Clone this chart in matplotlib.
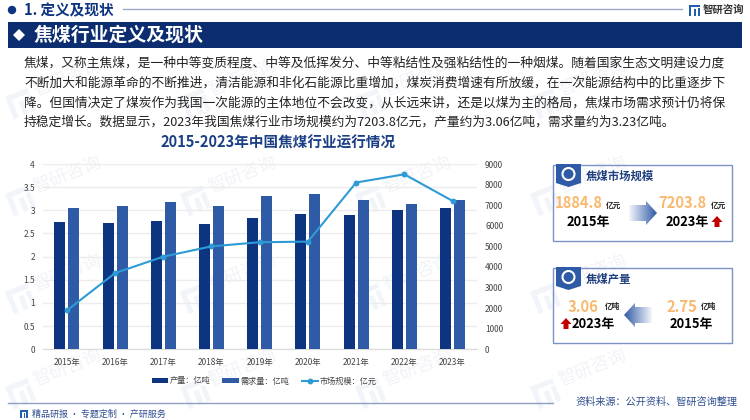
import numpy as np
import matplotlib
matplotlib.use('Agg')
import matplotlib.pyplot as plt
from matplotlib.patches import Polygon, Rectangle, Circle
from matplotlib.colors import LinearSegmentedColormap

plt.rcParams['font.family'] = ['Noto Sans CJK SC', 'DejaVu Sans']

# data
years = ['2015年', '2016年', '2017年', '2018年', '2019年', '2020年', '2021年', '2022年', '2023年']
output = [2.75, 2.72, 2.77, 2.71, 2.83, 2.91, 2.89, 3.00, 3.06]
demand = [3.04, 3.09, 3.19, 3.10, 3.30, 3.35, 3.22, 3.14, 3.23]
market = [1884.8, 3700, 4500, 5000, 5200, 5230, 8100, 8500, 7203.8]
left_ticks = [0, 0.5, 1, 1.5, 2, 2.5, 3, 3.5, 4]
left_labels = ['0', '0.5', '1', '1.5', '2', '2.5', '3', '3.5', '4']
right_ticks = [0, 1000, 2000, 3000, 4000, 5000, 6000, 7000, 8000, 9000]

body_lines = [
    '焦煤，又称主焦煤，是一种中等变质程度、中等及低挥发分、中等粘结性及强粘结性的一种烟煤。随着国家生态文明建设力度',
    '不断加大和能源革命的不断推进，清洁能源和非化石能源比重增加，煤炭消费增速有所放缓，在一次能源结构中的比重逐步下',
    '降。但国情决定了煤炭作为我国一次能源的主体地位不会改变，从长远来讲，还是以煤为主的格局，焦煤市场需求预计仍将保',
    '持稳定增长。数据显示，2023年我国焦煤行业市场规模约为7203.8亿元，产量约为3.06亿吨，需求量约为3.23亿吨。',
]

NAVY = '#0c3480'
BLUE = '#2f5aa6'
LINE = '#2e9bd6'
ORANGE = '#f9b96e'
W, H = 750, 420

fig = plt.figure(figsize=(7.5, 4.2), dpi=100, facecolor='white')

# background layer in pixel coords
bg = fig.add_axes([0, 0, 1, 1], zorder=0)
bg.set_xlim(0, W)
bg.set_ylim(H, 0)
bg.axis('off')


def logo(a, x, y, s, color, rot=0):
    # small square mark, built from three bars
    t = matplotlib.transforms.Affine2D().scale(s).rotate_deg(rot).translate(x, y) + a.transData
    a.add_patch(Rectangle((0, 0), 1, 0.22, color=color, transform=t, lw=0))
    a.add_patch(Rectangle((0, 0), 0.22, 1, color=color, transform=t, lw=0))
    a.add_patch(Rectangle((0.45, 0.4), 0.22, 0.6, color=color, transform=t, lw=0))
    a.add_patch(Rectangle((0.8, 0.3), 0.2, 0.7, color=color, transform=t, lw=0))


# watermarks
for cx in [67, 242, 417, 592]:
    for cy in [75, 172, 270, 365]:
        bg.text(cx, cy + 3, '智研咨询', fontsize=13, color='#f1f3f7', rotation=22,
                ha='center', va='center')
        logo(bg, cx - 62, cy + 22, 24, '#f1f5fa', rot=-22)

# header
bg.add_patch(Circle((12, 10), 3.5, color=NAVY))
bg.text(24, 10, '1. 定义及现状', fontsize=10.5, fontweight='bold', color=NAVY, va='center')
bg.plot([123, 682], [9, 9], color='#9aa9c9', lw=1)
logo(bg, 689, 5, 11, '#1f5fae')
bg.text(703, 10, '智研咨询', fontsize=7.5, fontweight='bold', color='#333333', va='center')
bg.add_patch(Rectangle((8, 22), 734, 25.5, color='#0c2d6f', lw=0))
bg.add_patch(Polygon([(13, 35), (19, 29), (25, 35), (19, 41)], color='white', lw=0))
bg.text(34, 35, '焦煤行业定义及现状', fontsize=13.6, fontweight='bold', color='white', va='center')

# body text
for txt, yy in zip(body_lines, [63, 83, 103, 122]):
    bg.text(24, yy, txt, fontsize=9.17, color='#222222', va='center')

bg.text(160, 143, '2015-2023年中国焦煤行业运行情况', fontsize=10.5, fontweight='bold',
        color='#1a3f85', ha='left', va='center')

# footer
bg.plot([8, 553], [403, 403], color='#8f9fc4', lw=1)
logo(bg, 20, 410, 8, '#1f5fae')
bg.text(32, 414, '精品研报 · 专题定制 · 产研服务', fontsize=6.5, color='#2f4f8f', va='center')
bg.text(575, 402, '资料来源：公开资料、智研咨询整理', fontsize=7.3, color='#2f4f8f', va='center')

# chart, plot area from pixels
L, R, T, B = 42.7, 476.7, 164, 349.3
ax = fig.add_axes([L / W, 1 - B / H, (R - L) / W, (B - T) / H], zorder=2)
ax.patch.set_alpha(0)
x = np.arange(len(years))
width = 0.228
off = 0.145
b1 = ax.bar(x - off, output, width, color=NAVY, label='产量：亿吨', zorder=3)
b2 = ax.bar(x + off, demand, width, color=BLUE, label='需求量：亿吨', zorder=3)
ax.set_xlim(-0.5, len(years) - 0.5)
ax.set_ylim(0, 4)
ax.set_yticks(left_ticks)
ax.set_yticklabels(left_labels)
ax.set_xticks(x)
ax.set_xticklabels(years)
ax.grid(axis='y', color='#ececec', lw=1, zorder=0)
ax.set_axisbelow(True)
ax.tick_params(length=0, labelsize=6, labelcolor='#444444')
ax.tick_params(axis='x', pad=6)
ax.tick_params(axis='y', pad=5.5)
for s in ['top', 'left', 'right']:
    ax.spines[s].set_visible(False)
ax.spines['bottom'].set_color('#d9d9d9')

ax2 = ax.twinx()
ax2.set_zorder(3)
ax2.patch.set_alpha(0)
l1, = ax2.plot(x, market, color=LINE, lw=1.5, marker='o', ms=3.2, label='市场规模：亿元')
ax2.set_ylim(0, 9000)
ax2.set_yticks(right_ticks)
ax2.tick_params(length=0, labelsize=6, labelcolor='#444444', pad=6)
for s in ax2.spines.values():
    s.set_visible(False)

fig.legend([b1, b2, l1], ['产量：亿吨', '需求量：亿吨', '市场规模：亿元'], ncol=3, frameon=False,
           loc='center', bbox_to_anchor=(264 / W, 1 - 381 / H), fontsize=5.9, labelcolor='#444444',
           handlelength=2.0, handleheight=0.5, handletextpad=0.2, columnspacing=1.5)

# right panels on top
top = fig.add_axes([0, 0, 1, 1], zorder=5)
top.set_xlim(0, W)
top.set_ylim(H, 0)
top.axis('off')
top.patch.set_alpha(0)
fade = LinearSegmentedColormap.from_list('fade', ['#f4f6fb', '#2f5aa6'])


def block_arrow(x0, x1, y, to_right=True):
    # gradient arrow clipped to a polygon
    h = 8
    head = 11
    if to_right:
        pts = [(x0, y - h), (x1 - head, y - h), (x1 - head, y - 12), (x1, y), (x1 - head, y + 12),
               (x1 - head, y + h), (x0, y + h)]
        grad = np.linspace(0, 1, 64).reshape(1, -1)
    else:
        pts = [(x1, y - h), (x0 + head, y - h), (x0 + head, y - 12), (x0, y), (x0 + head, y + 12),
               (x0 + head, y + h), (x1, y + h)]
        grad = np.linspace(1, 0, 64).reshape(1, -1)
    im = top.imshow(grad, extent=[x0, x1, y + 13, y - 13], cmap=fade, aspect='auto', zorder=2)
    im.set_clip_path(Polygon(pts, transform=top.transData))


def up_arrow(cx, cy):
    top.add_patch(Polygon([(cx, cy - 6), (cx + 5.5, cy), (cx + 2.5, cy), (cx + 2.5, cy + 5),
                           (cx - 2.5, cy + 5), (cx - 2.5, cy), (cx - 5.5, cy)], color='#c00000', lw=0))


def panel(y0, y1, title):
    top.add_patch(Rectangle((552.7, y0), 179, y1 - y0, fill=False, ec='#7d93c8', lw=1))
    top.add_patch(Polygon([(556, y0 - 1), (581, y0 - 1), (581, y0 + 18), (568.5, y0 + 22), (556, y0 + 18)],
                          color=BLUE, lw=0))
    top.add_patch(Circle((568.5, y0 + 9), 6, fill=False, ec='white', lw=1.5))
    top.text(586, y0 + 11, title, fontsize=8.2, fontweight='bold', color='#1f3f7f', va='center')


panel(165, 241, '焦煤市场规模')
top.text(578.5, 203, '1884.8', fontsize=10.6, fontweight='bold', color=ORANGE, ha='center', va='center')
top.text(606, 205, '亿元', fontsize=5.5, fontweight='bold', color='#222222', va='center')
top.text(588, 222, '2015年', fontsize=9.3, fontweight='bold', color='black', ha='center', va='center')
top.text(682.5, 203, '7203.8', fontsize=10.6, fontweight='bold', color=ORANGE, ha='center', va='center')
top.text(711, 205, '亿元', fontsize=5.5, fontweight='bold', color='#222222', va='center')
top.text(687.5, 222, '2023年', fontsize=9.3, fontweight='bold', color='black', ha='center', va='center')
up_arrow(717, 222)
block_arrow(629, 657, 213, True)

panel(268, 343, '焦煤产量')
top.text(583, 307, '3.06', fontsize=10.6, fontweight='bold', color=ORANGE, ha='center', va='center')
top.text(605, 307, '亿吨', fontsize=5.5, fontweight='bold', color='#222222', va='center')
top.text(681.5, 307, '2.75', fontsize=10.6, fontweight='bold', color=ORANGE, ha='center', va='center')
top.text(701, 307, '亿吨', fontsize=5.5, fontweight='bold', color='#222222', va='center')
top.text(593, 324, '2023年', fontsize=9.3, fontweight='bold', color='black', ha='center', va='center')
up_arrow(566, 324)
top.text(691.5, 324, '2015年', fontsize=9.3, fontweight='bold', color='black', ha='center', va='center')
block_arrow(624, 652, 315, False)

top.set_xlim(0, W)
top.set_ylim(H, 0)
fig.savefig('out.png', dpi=100)
